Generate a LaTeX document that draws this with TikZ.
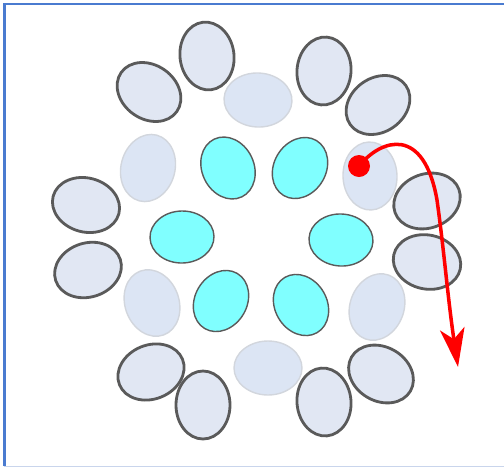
\documentclass[tikz,border=0pt]{standalone}
\usetikzlibrary{arrows.meta}

\definecolor{frameblue}{HTML}{4A7BD0}
\definecolor{framelight}{HTML}{C9D5EC}
\definecolor{cellfill}{HTML}{E1E7F3}
\definecolor{cellline}{HTML}{5A5A5A}
\definecolor{ghostfill}{HTML}{DCE5F4}
\definecolor{ghostline}{HTML}{D2D6DD}
\definecolor{corefill}{HTML}{80FFFF}

\begin{document}
\begin{tikzpicture}[x=0.02cm, y=-0.02cm,
    outer/.style={draw=cellline, fill=cellfill, line width=1.6pt},
    ghost/.style={draw=ghostline, fill=ghostfill, line width=0.8pt},
    core/.style={draw=cellline, fill=corefill, line width=0.8pt}]
    \useasboundingbox (0,0) rectangle (504,468);

    % frame
    \draw[framelight, line width=1pt] (4,466.5) -- (504,466.5);
    \draw[frameblue, line width=1.3pt] (4.5,466) -- (4.5,4) -- (504,4);

    % outer ring (x/y/tilt)
    \foreach \x/\y/\a in {149/92/-35, 207/56/97, 324/71/85, 378/105/35,
                          427/201/20, 427/262/-12, 381/374/-30, 324/402/95,
                          203/405/90, 151/372/22, 88/270/18, 86/205/-15} {
        \draw[outer, rotate around={\a:(\x,\y)}] (\x,\y) ellipse [x radius=34, y radius=27];
    }

    % faint ring (x/y/tilt)
    \foreach \x/\y/\a in {258/100/-3, 370/176/92, 377/307/70,
                          268/368/0, 152/303/110, 148/168/75} {
        \draw[ghost, rotate around={\a:(\x,\y)}] (\x,\y) ellipse [x radius=34, y radius=27];
    }

    % inner ring, long axis pointing to the centre
    \foreach \x/\y in {228/168, 300/168, 341/240, 301/305, 221/301, 182/237} {
        \pgfmathsetmacro\ang{atan2(235-\y,\x-260)}
        \draw[core, rotate around={\ang:(\x,\y)}] (\x,\y) ellipse [x radius=32, y radius=26];
    }

    % path out of the ring
    \node (dot) [circle, fill=red, inner sep=0pt, minimum size=0.44cm] at (359,166) {};
    \coordinate (tip) at (458,367);
    \draw[red, line width=2pt, -{Stealth[length=22pt, width=14pt, inset=6pt]}]
        (dot.center) .. controls (382,138) and (424,126) .. (437,200)
        .. controls (444,250) and (448,300) .. (tip);
\end{tikzpicture}
\end{document}
